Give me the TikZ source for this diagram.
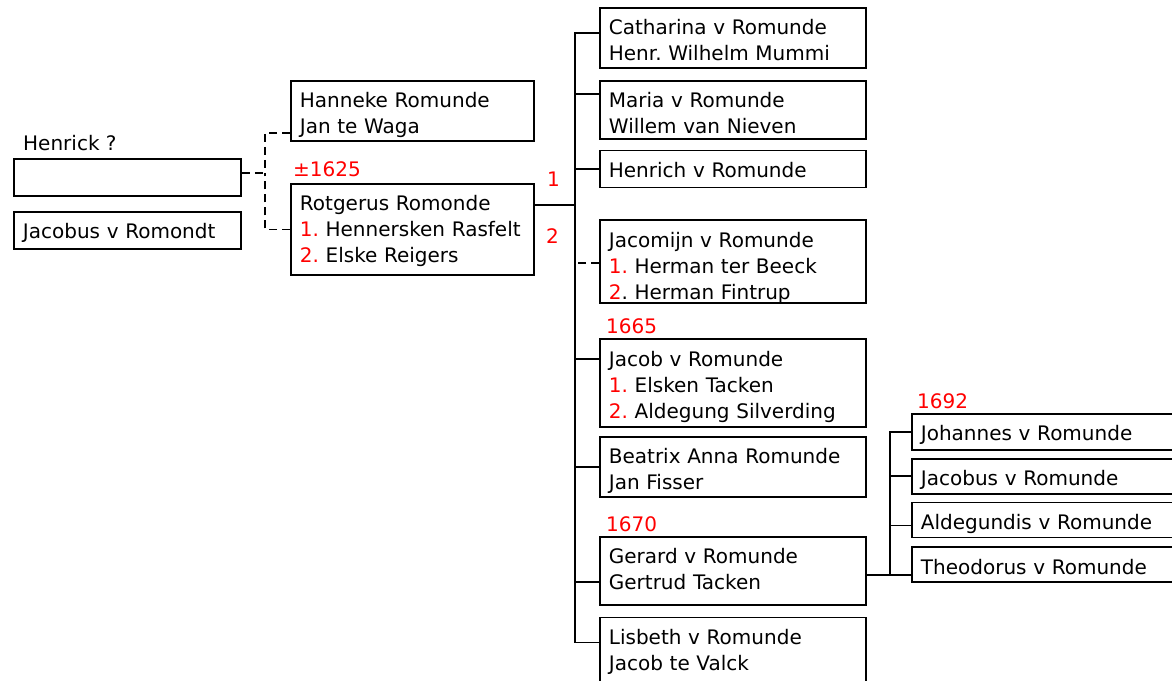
\documentclass[tikz,border=0pt]{standalone}
\usepackage{fontspec}
\setmainfont{DejaVu Sans}
\usetikzlibrary{positioning}
\newcommand\boxfont{\fontsize{20}{26}\selectfont\frenchspacing\hyphenpenalty=10000\relax}

\begin{document}
\begin{tikzpicture}[
  x=1pt, y=-1pt,
  node distance=11pt,
  box/.style={draw, line width=1.8pt, anchor=north west, align=left, inner xsep=9pt, inner ysep=0pt, text height=27pt, font=\boxfont},
  lbl/.style={anchor=base west, inner sep=0pt, font=\boxfont},
  yr/.style={lbl, text=red},
  tie/.style={line width=1.8pt},
  dtie/.style={tie, dash pattern=on 8pt off 5pt}
]
\useasboundingbox (0,0) rectangle (1172,680);
\clip (0,0) rectangle (1172,680);

\node[lbl] (hen) at (23,150) {Henrick ?};
\node[box, text width=209pt, text depth=10pt] (emp) at (13,158) {};
\node[box, text width=209pt, text depth=10pt, below=14pt of emp] (jac) {Jacobus v Romondt};
\node[box, text width=225pt, text depth=33pt] (han) at (290,80) {Hanneke Romunde\\Jan te Waga};
\node[yr] (y1625) at (293,176) {±1625};
\node[box, text width=225pt, text depth=64pt] (rot) at (290,183) {Rotgerus Romonde\\\textcolor{red}{1.} Hennersken Rasfelt\\\textcolor{red}{2.} Elske Reigers};
\node[yr] (m1) at (547,186) {1};
\node[yr] (m2) at (546,243) {2};

\node[box, text width=248pt, text depth=33pt] (cat) at (599,7) {Catharina v Romunde\\Henr. Wilhelm Mummi};
\node[box, text width=248pt, text depth=31pt, below=11pt of cat] (mar) {Maria v Romunde\\Willem van Nieven};
\node[box, text width=248pt, text depth=10pt, below=10pt of mar] (hch) {Henrich v Romunde};
\node[box, text width=248pt, text depth=56pt, below=31pt of hch] (jcm) {Jacomijn v Romunde\\\textcolor{red}{1.} Herman ter Beeck\\\textcolor{red}{2}. Herman Fintrup};
\node[box, text width=248pt, text depth=61pt, below=34pt of jcm] (jcb) {Jacob v Romunde\\\textcolor{red}{1.} Elsken Tacken\\\textcolor{red}{2.} Aldegung Silverding};
\node[box, text width=248pt, text depth=33pt, below=8pt of jcb] (bea) {Beatrix Anna Romunde\\Jan Fisser};
\node[box, text width=248pt, text depth=41pt, below=38pt of bea] (ger) {Gerard v Romunde\\Gertrud Tacken};
\node[box, text width=248pt, text depth=37pt, below=11pt of ger] (lis) {Lisbeth v Romunde\\Jacob te Valck};
\node[yr] (y1665) at (606,333) {1665};
\node[yr] (y1670) at (606,531) {1670};

\node[yr] (y1692) at (917,408) {1692};
\node[box, text width=282pt, text depth=9pt] (joh) at (911,413) {Johannes v Romunde};
\node[box, text width=282pt, text depth=8pt, below=7pt of joh] (jcs) {Jacobus v Romunde};
\node[box, text width=282pt, text depth=8pt, below=7pt of jcs] (ald) {Aldegundis v Romunde};
\node[box, text width=282pt, text depth=8pt, below=8pt of ald] (the) {Theodorus v Romunde};

\coordinate (lfork) at (265,173);
\draw[dtie] (emp.east |- lfork) -- (lfork);
\draw[dtie] ([yshift=-22pt]han.west) -| (lfork);
\draw[dtie] (rot.west) -| (lfork);

\coordinate (fork) at (575,205);
\draw[tie] (rot.east |- fork) -- (fork);
\draw[tie] ([yshift=5pt]cat.west) -| (fork);
\draw[tie] ([yshift=16pt]mar.west) -| (fork);
\draw[tie] (hch.west) -| (fork);
\draw[dtie] ([yshift=-1.5pt]jcm.west) -- ([yshift=-1.5pt]jcm.west -| fork);
\draw[tie] ([yshift=24pt]jcb.west) -| (fork);
\draw[tie] (bea.west) -| (fork);
\draw[tie] ([yshift=-11pt]ger.west) -| (fork);
\draw[tie] ([yshift=7pt]lis.west) -| (fork);

\coordinate (gfork) at (890,575);
\draw[tie] (ger.east |- gfork) -- (gfork);
\draw[tie] (joh.west) -| (gfork);
\draw[tie] (jcs.west) -| (gfork);
\draw[tie] ([yshift=-5.5pt]ald.west) -| (gfork);
\draw[tie] (the.west |- gfork) -- (gfork);
\end{tikzpicture}
\end{document}
